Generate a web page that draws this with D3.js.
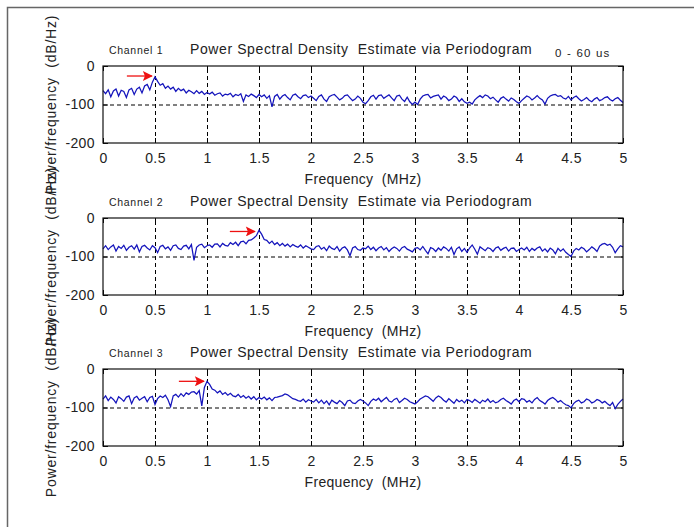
<!DOCTYPE html>
<html>
<head>
<meta charset="utf-8">
<script src="https://cdn.jsdelivr.net/npm/d3@7"></script>
<style>
  body { margin: 0; background: #fff; }
  svg { display: block; font-family: "Liberation Sans", Arial, sans-serif; }
  .tick text { fill: #222; font-size: 14px; letter-spacing: 0.4px; }
</style>
</head>
<body>
<svg id="chart" width="694" height="527"></svg>
<script>
// sample spacing of the periodogram, MHz
var freqStep = 0.025;

// PSD in dB/Hz, one value per 0.025 MHz (0 .. 5 MHz)
var chan1 = [
  -64, -72, -62, -80, -65, -60, -78, -63, -66, -82, -62, -58, -74, -60, -55, -70, -52, -48, -62, -42, -28,
  -40, -50, -46, -58, -52, -60, -55, -66, -58, -64, -60, -70, -63, -67, -72, -64, -71, -66, -74, -69,
  -73, -68, -76, -72, -70, -78, -73, -75, -71, -80, -74, -77, -72, -92, -75, -79, -73, -77, -82, -74,
  -80, -75, -84, -77, -106, -79, -74, -86, -78, -74, -82, -88, -76, -73, -80, -85, -77, -75, -82, -78,
  -84, -90, -79, -75, -86, -92, -80, -76, -74, -81, -88, -84, -77, -75, -83, -90, -86, -78, -84, -94,
  -98, -90, -80, -76, -86, -77, -75, -84, -79, -75, -83, -90, -78, -76, -86, -92, -81, -93, -100, -94,
  -100, -86, -78, -75, -74, -83, -79, -77, -75, -86, -78, -82, -90, -86, -78, -82, -92, -85, -93, -97,
  -94, -99, -88, -82, -77, -82, -75, -78, -85, -81, -88, -94, -84, -80, -86, -91, -83, -87, -93, -97,
  -90, -84, -78, -81, -88, -83, -77, -84, -88, -99, -84, -78, -75, -74, -79, -77, -83, -86, -79, -88,
  -82, -78, -85, -91, -87, -82, -89, -93, -86, -82, -90, -87, -82, -80, -87, -91, -85, -82, -89, -95
];
var chan2 = [
  -80, -72, -82, -75, -70, -86, -74, -79, -71, -84, -76, -72, -81, -70, -88, -74, -71, -78, -83, -72, -77,
  -90, -74, -71, -80, -75, -84, -72, -70, -79, -82, -73, -71, -80, -69, -110, -76, -70, -68, -77, -72,
  -70, -76, -68, -67, -75, -66, -71, -73, -64, -69, -63, -72, -62, -60, -67, -58, -57, -52, -46, -32,
  -42, -56, -58, -66, -60, -69, -64, -72, -66, -73, -68, -75, -69, -73, -76, -70, -78, -72, -76, -80,
  -82, -74, -72, -81, -76, -85, -73, -79, -82, -74, -86, -78, -75, -83, -98, -78, -74, -82, -84, -78,
  -80, -73, -82, -76, -85, -78, -74, -83, -77, -87, -80, -75, -79, -86, -77, -74, -81, -84, -88, -79,
  -77, -83, -74, -84, -93, -77, -80, -87, -78, -84, -75, -79, -86, -76, -95, -80, -75, -87, -79, -89,
  -78, -70, -81, -94, -75, -80, -85, -77, -80, -87, -78, -75, -84, -79, -76, -86, -79, -78, -87, -82,
  -78, -83, -76, -87, -79, -84, -78, -75, -86, -80, -88, -78, -83, -93, -79, -86, -80, -89, -95, -100,
  -86, -79, -83, -76, -80, -88, -82, -75, -80, -87, -73, -68, -66, -71, -68, -76, -90, -80, -72, -75
];
var chan3 = [
  -78, -70, -82, -73, -79, -88, -72, -77, -84, -73, -70, -90, -75, -71, -81, -76, -72, -85, -74, -71, -92,
  -77, -70, -74, -68, -80, -98, -70, -66, -73, -64, -71, -62, -66, -60, -59, -65, -56, -96, -48, -32,
  -40, -52, -55, -62, -57, -66, -61, -68, -63, -70, -72, -66, -74, -69, -76, -71, -78, -72, -80, -74,
  -78, -73, -80, -75, -82, -74, -73, -71, -69, -65, -67, -72, -77, -79, -82, -84, -78, -86, -80, -83,
  -86, -79, -88, -81, -90, -83, -93, -81, -86, -90, -82, -87, -95, -83, -81, -88, -90, -83, -79, -83,
  -88, -95, -84, -78, -82, -76, -85, -79, -74, -83, -86, -79, -76, -87, -82, -76, -79, -85, -88, -91,
  -85, -78, -74, -70, -72, -78, -84, -75, -70, -74, -81, -86, -77, -83, -89, -79, -85, -81, -88, -79,
  -82, -87, -79, -84, -89, -81, -85, -78, -87, -82, -88, -85, -79, -76, -82, -86, -91, -82, -78, -85,
  -77, -79, -86, -82, -88, -79, -74, -82, -86, -91, -82, -77, -74, -79, -86, -82, -88, -93, -95, -101,
  -90, -84, -81, -88, -85, -78, -81, -88, -85, -79, -82, -88, -84, -90, -95, -87, -103, -92, -84, -78
];

var channels = ["Channel 1", "Channel 2", "Channel 3"];
var series = [chan1, chan2, chan3];
// where the red arrow points: [MHz, dB]
var arrowTips = [[0.47, -26], [1.46, -35], [0.97, -32]];

var xTicks = [0, 0.5, 1, 1.5, 2, 2.5, 3, 3.5, 4, 4.5, 5];
var yTicks = [0, -100, -200];
var titleText = "Power Spectral Density  Estimate via Periodogram";
var timeNote = "0 - 60 us";

var svg = d3.select("#chart");

// grey frame of the figure window (only top/left show)
svg.append("path")
  .attr("d", "M7.5,527V7.5H694")
  .attr("fill", "none")
  .attr("stroke", "#666")
  .attr("stroke-width", 1.5);

var left = 103, width = 520, height = 77;
var tops = [66, 218, 369];

var x = d3.scaleLinear().domain([0, 5]).range([0, width]);
var y = d3.scaleLinear().domain([-200, 0]).range([height, 0]);

var defs = svg.append("defs");
defs.append("marker")
  .attr("id", "head")
  .attr("viewBox", "0 0 10 10")
  .attr("refX", 9).attr("refY", 5)
  .attr("markerWidth", 12).attr("markerHeight", 10)
  .attr("markerUnits", "userSpaceOnUse")
  .attr("orient", "auto")
  .append("path")
  .attr("d", "M0,0L10,5L0,10L2,5Z")
  .attr("fill", "#ee1111");

var line = d3.line()
  .x(function(d, i) { return x(i * freqStep); })
  .y(function(d) { return y(d); });

series.forEach(function(data, k) {
  var g = svg.append("g").attr("transform", "translate(" + left + "," + tops[k] + ")");

  // dashed grid
  g.append("g")
    .attr("transform", "translate(0," + height + ")")
    .call(d3.axisBottom(x).tickValues(xTicks.slice(1, -1)).tickSize(-height).tickFormat(""))
    .call(function(s) {
      s.select(".domain").remove();
      s.selectAll("line").attr("stroke", "#000").attr("stroke-dasharray", "4,3");
    });
  g.append("g")
    .call(d3.axisLeft(y).tickValues([-100]).tickSize(-width).tickFormat(""))
    .call(function(s) {
      s.select(".domain").remove();
      s.selectAll("line").attr("stroke", "#000").attr("stroke-dasharray", "4,3");
    });

  // curve
  g.append("path")
    .datum(data)
    .attr("fill", "none")
    .attr("stroke", "#1414bc")
    .attr("stroke-width", 1.25)
    .attr("d", line);

  // box and inward ticks
  g.append("g")
    .attr("transform", "translate(0," + height + ")")
    .call(d3.axisBottom(x).tickValues(xTicks).tickSize(-5).tickPadding(10).tickFormat(function(d) { return d; }))
    .call(function(s) {
      s.select(".domain").remove();
      s.selectAll("line").attr("stroke", "#000");
    });
  g.append("g")
    .call(d3.axisTop(x).tickValues(xTicks).tickSize(-5).tickFormat(""))
    .call(function(s) { s.select(".domain").remove(); });
  g.append("g")
    .call(d3.axisLeft(y).tickValues(yTicks).tickSize(-5).tickPadding(8).tickFormat(function(d) { return d; }))
    .call(function(s) {
      s.select(".domain").remove();
      s.selectAll("line").attr("stroke", "#000");
    });
  g.append("g")
    .attr("transform", "translate(" + width + ",0)")
    .call(d3.axisRight(y).tickValues(yTicks).tickSize(-5).tickFormat(""))
    .call(function(s) { s.select(".domain").remove(); });
  g.append("rect")
    .attr("width", width).attr("height", height)
    .attr("fill", "none").attr("stroke", "#111").attr("stroke-width", 1.2);

  // red arrow
  var tip = arrowTips[k];
  g.append("line")
    .attr("x1", x(tip[0]) - 25).attr("y1", y(tip[1]))
    .attr("x2", x(tip[0])).attr("y2", y(tip[1]))
    .attr("stroke", "#ee1111").attr("stroke-width", 1.3)
    .attr("marker-end", "url(#head)");

  // titles
  g.append("text")
    .attr("x", 6).attr("y", -12)
    .attr("font-size", 10.5).attr("letter-spacing", 0.7)
    .attr("fill", "#222")
    .text(channels[k]);
  g.append("text")
    .attr("x", 87).attr("y", -12)
    .attr("font-size", 14).attr("letter-spacing", 0.6)
    .attr("fill", "#222")
    .attr("xml:space", "preserve")
    .style("white-space", "pre")
    .text(titleText);

  g.append("text")
    .attr("x", width / 2).attr("y", height + 41)
    .attr("text-anchor", "middle")
    .attr("font-size", 14).attr("letter-spacing", 0.3).attr("fill", "#222")
    .attr("xml:space", "preserve")
    .style("white-space", "pre")
    .text("Frequency  (MHz)");

  g.append("text")
    .attr("transform", "translate(" + (-47) + "," + (height / 2) + ") rotate(-90)")
    .attr("text-anchor", "middle")
    .attr("font-size", 14).attr("letter-spacing", 0.8).attr("fill", "#222")
    .attr("xml:space", "preserve")
    .style("white-space", "pre")
    .text("Power/frequency  (dB/Hz)");

  if (k === 0) {
    g.append("text")
      .attr("x", 452).attr("y", -9)
      .attr("font-size", 11.5).attr("letter-spacing", 1.2)
      .attr("fill", "#222")
      .text(timeNote);
  }
});
</script>
</body>
</html>
